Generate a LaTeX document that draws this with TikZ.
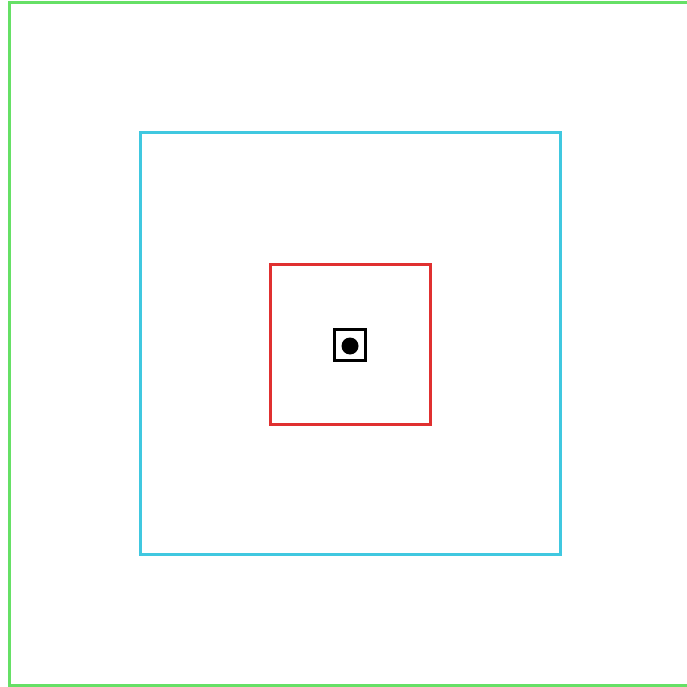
\documentclass[tikz,border=0pt]{standalone}
\usepackage{xcolor}
\usetikzlibrary{positioning}

\definecolor{framegreen}{RGB}{102,224,102}
\definecolor{zonecyan}{RGB}{64,200,224}
\definecolor{corered}{RGB}{224,48,48}

\begin{document}
\begin{tikzpicture}[
    x=1pt, y=-1pt,
    sqbox/.style={rectangle, inner sep=0pt, outer sep=0pt, line width=3pt},
    outer/.style={sqbox, draw=framegreen, minimum width=682pt, minimum height=682pt},
    middle/.style={sqbox, draw=zonecyan, minimum width=420pt, minimum height=421pt},
    inner/.style={sqbox, draw=corered, minimum width=160pt, minimum height=160pt},
    target/.style={sqbox, draw=black, minimum width=31pt, minimum height=31pt},
    dot/.style={circle, fill=black, inner sep=0pt, minimum size=17pt}
]
\useasboundingbox (0,0) rectangle (686,687);

% Squares
\node[outer] (frame) at (350,344) {};
\node[middle] (zone) at (350,343.5) {};
\node[inner] (core) at (350,344) {};
\node[target] (cell) at (349.5,344.5) {};

% Centre point
\node[dot] (pt) at (350,346) {};

\end{tikzpicture}
\end{document}
